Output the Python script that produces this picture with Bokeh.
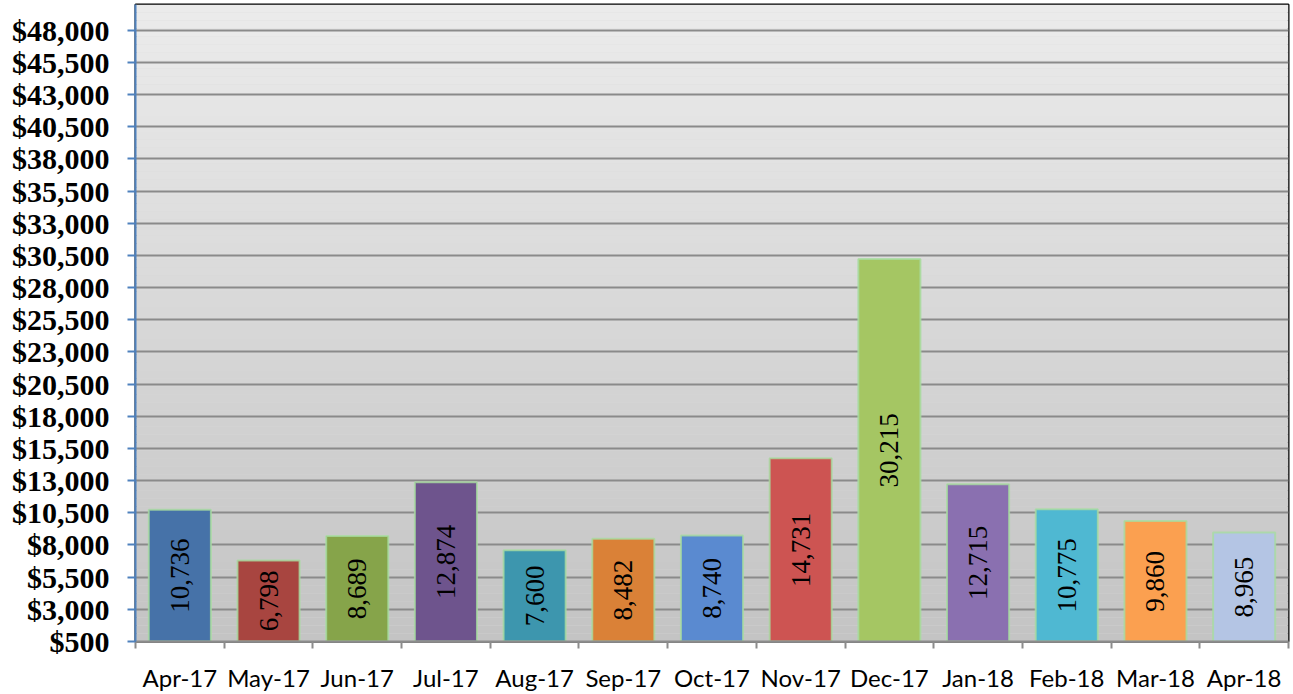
import numpy as np
from bokeh.plotting import figure
from bokeh.models import FixedTicker, NumeralTickFormatter, Range1d, ColumnDataSource
from bokeh.embed import file_html
from bokeh.resources import INLINE
from bokeh.core.properties import value

months = ["Apr-17", "May-17", "Jun-17", "Jul-17", "Aug-17", "Sep-17", "Oct-17",
          "Nov-17", "Dec-17", "Jan-18", "Feb-18", "Mar-18", "Apr-18"]
sales = [10736, 6798, 8689, 12874, 7600, 8482, 8740, 14731, 30215, 12715, 10775, 9860, 8965]
bar_colors = ["#4672a8", "#a84540", "#86a44a", "#6e548d", "#3d96ae", "#da8137", "#5a8ad0",
              "#cd5452", "#a5c663", "#8a70b0", "#4fb8d2", "#fba050", "#b4c5e4"]
y_ticks = list(range(500, 48001, 2500))

Y_START, Y_END = 500, 50000

p = figure(width=1290, height=694, output_backend="svg", toolbar_location=None,
           x_range=Range1d(0, len(months)), y_range=Range1d(Y_START, Y_END),
           min_border_left=135, min_border_right=2, min_border_top=4, min_border_bottom=51)

# gradient background (decorative)
n = 80
edges = np.linspace(Y_START, Y_END, n + 1)
top_c = np.array([0xec, 0xec, 0xec])
bot_c = np.array([0xc4, 0xc4, 0xc4])
cols = []
for k in range(n):
    t = (k + 0.5) / n
    c = (bot_c + (top_c - bot_c) * t).astype(int)
    cols.append("#%02x%02x%02x" % tuple(c))
bg = p.quad(left=0, right=len(months), bottom=edges[:-1], top=edges[1:], fill_color=cols,
            line_color=None)
bg.level = "image"

xs = [i + 0.5 for i in range(len(months))]
src = ColumnDataSource(dict(x=xs, top=sales, color=bar_colors,
                            mid=[(Y_START + v) / 2 for v in sales],
                            label=[f"{v:,}" for v in sales]))
p.vbar(x="x", top="top", bottom=Y_START, width=0.70, fill_color="color",
       line_color="#a8dca0", line_width=2, line_alpha=0.8, source=src)
p.text(x="x", y="mid", text="label", angle=np.pi / 2, text_align="center",
       text_baseline="middle", text_font=value("Liberation Serif"),
       text_font_size="27px", text_color="black", source=src)

p.outline_line_color = "black"
p.outline_line_width = 2
p.background_fill_color = "#d8d8d8"
p.border_fill_color = "white"

p.xgrid.visible = False
p.ygrid.grid_line_color = "#8a8a8a"
p.ygrid.grid_line_width = 2
p.ygrid.ticker = FixedTicker(ticks=y_ticks)

p.yaxis.ticker = FixedTicker(ticks=y_ticks)
p.yaxis.formatter = NumeralTickFormatter(format="$0,0")
p.yaxis.axis_line_color = "#4f81bd"
p.yaxis.axis_line_width = 2
p.yaxis.major_tick_line_color = "#4f81bd"
p.yaxis.major_tick_line_width = 2
p.yaxis.major_tick_out = 8
p.yaxis.major_tick_in = 0
p.yaxis.minor_tick_line_color = None
p.yaxis.major_label_text_font = "Liberation Serif"
p.yaxis.major_label_text_font_style = "bold"
p.yaxis.major_label_text_font_size = "30px"
p.yaxis.major_label_text_color = "black"
p.yaxis.major_label_standoff = 18

p.xaxis.ticker = FixedTicker(ticks=xs, minor_ticks=list(range(len(months) + 1)))
p.xaxis.major_label_overrides = {x: m for x, m in zip(xs, months)}
p.xaxis.axis_line_color = "#8c8c8c"
p.xaxis.axis_line_width = 2
p.xaxis.major_tick_line_color = None
p.xaxis.major_tick_out = 0
p.xaxis.major_tick_in = 0
p.xaxis.minor_tick_line_color = "#8c8c8c"
p.xaxis.minor_tick_line_width = 2
p.xaxis.minor_tick_out = 7
p.xaxis.minor_tick_in = 0
p.xaxis.major_label_text_font = "Lato"
p.xaxis.major_label_text_font_size = "24px"
p.xaxis.major_label_text_color = "black"
p.xaxis.major_label_standoff = 14

open("out.html", "w").write(file_html(p, INLINE))
